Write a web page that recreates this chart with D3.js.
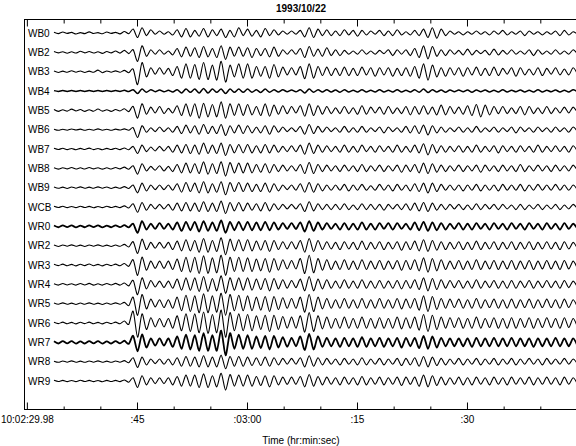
<!DOCTYPE html>
<html>
<head>
<meta charset="utf-8">
<script src="https://cdn.jsdelivr.net/npm/d3@7"></script>
<style>
  body { margin: 0; background: #fff; }
  text { font-family: "Liberation Sans", Arial, Helvetica, sans-serif; fill: #000; }
</style>
</head>
<body>
<div id="chart"></div>
<script>
// station names, top to bottom
const stations = ["WB0", "WB2", "WB3", "WB4", "WB5", "WB6", "WB7", "WB8", "WB9", "WCB",
                  "WR0", "WR2", "WR3", "WR4", "WR5", "WR6", "WR7", "WR8", "WR9"];

// time axis (seconds after 10:02:29.98)
const majorTicks = [0, 15.02, 30.02, 45.02, 60.02];
const majorLabels = ["10:02:29.98", ":45", ":03:00", ":15", ":30"];
const minorTicks = [5.02, 10.02, 20.02, 25.02, 35.02, 40.02, 50.02, 55.02, 65.02, 70.02];

// trace samples: peaks/troughs, first one at 3.7 s, one every 0.6 s
const sampleStart = 3.7;
const sampleStep = 0.6;

const wb0 = [0.5,-0.5,0.8,-0.3,0.5,-0.8,0.3,-0.5,0.9,-0.4,0.3,-0.6,0.8,-0.3,0.5,-0.7,1.2,-0.5,
  3,-3.5,4,-2,2.5, -1,1.5,-1,1,-1.5,
  2.5,-3,3.5,-3,2,-2.5,3.5,-3,2.5,-2,3,-3.5,2,-3,4,
  -2,3,-2.5,2,-3,3.5,-2,2.5,-1.5,1.5,-1,1.5,-1,
  2,-3,4,-3.5,3,-2,2.5,-2,
  1.5,-2,2.5,-1.5,2,-2.5,2,-1.5,1.5,-1,2,-2,1.5,-2,2.5,-1.5,1,-1.5,2,
  -2,3,-3.5,4,-4,3,-2,1.5,-1,
  1,-1.5,1,-1,1.5,-1,1,-1.5,1.5,-1,2,-1.5,1,-1,1.5,-2,1.5,-1,1,-1.5,1,-1,1.5,-2,2,-1.5,1,-1];

const wb2 = [0.6,-0.4,0.5,-0.7,0.4,-0.5,0.8,-0.4,0.6,-0.5,0.4,-0.8,0.6,-0.4,1,-0.6,1.5,-1,
  2,-7,5,-3,2, -1.5,2,-1.5,1,-2,
  3,-3.5,4,-3,3.5,-4,4.5,-3.5,3,-4,5,-5.5,4,-3,4,
  -3,3.5,-4,3,-2.5,3,-3.5,4,-3,2,-1.5,2,-1.5,
  3,-4,4.5,-3,2.5,-3,3.5,-2.5,
  2,-2.5,1.5,-1.5,1,-1.5,2,-1.5,1,-1.5,1.5,-1,2,-2.5,2,-1.5,2,-2.5,3,
  -4,5,-5,4.5,-3,2,-2.5,2,-1.5,
  1.5,-2,2.5,-2,1.5,-1,1.5,-2,2.5,-2,1.5,-1.5,2,-1.5,1,-1.5,2,-2.5,2,-1.5,1,-1.5,2,-1.5,1,-1.5,2,-1.5];

const wb3 = [0.5,-0.6,0.4,-0.5,0.7,-0.4,0.5,-0.6,0.4,-0.5,1.2,-0.8,0.5,-0.4,0.6,-0.5,1,-0.8,
  2,-10,7,-4,3, -2,3,-2,2.5,-3,
  4,-5,6,-5,5.5,-6,7,-6,5,-6.5,8,-8,5,-4,6,
  -5,6,-5,4,-3.5,4,-5,5.5,-4,3.5,-2.5,3,-2.5,
  4,-5.5,6,-5,4,-3,3.5,-3,
  2.5,-3,3.5,-3,2.5,-3,3.5,-2.5,3,-3.5,3,-2.5,3,-3.5,2.5,-3,3,-3.5,4,
  -5,6,-6.5,5,-4,3,-3.5,3,-2.5,
  3,-3.5,3,-2.5,3.5,-3,2.5,-3,3.5,-3,2.5,-2,3,-3.5,3,-2.5,2,-2.5,3,-3,2.5,-2,3,-2.5,2,-2.5,3,-2];

const wb4 = [0.3,-0.3,0.4,-0.3,0.3,-0.4,0.3,-0.3,0.4,-0.3,0.3,-0.4,0.3,-0.3,0.4,-0.3,0.5,-0.4,
  1,-2,1.5,-1,1, -0.5,0.8,-0.6,0.5,-0.8,
  1,-1.5,1.5,-1,1.5,-1.5,2,-1.5,1.5,-1,1.5,-2,1.5,-1,1.5,
  -1,1.5,-1,1,-1.2,1.5,-1,1,-0.8,1,-0.6,0.8,-0.6,
  1,-1.5,1.5,-1,1,-0.8,1,-0.8,
  0.8,-1,1,-0.8,0.6,-0.8,1,-0.8,0.6,-0.8,1,-0.8,0.6,-0.8,1,-0.8,0.6,-0.8,1,
  -1,1.5,-1.2,1,-0.8,0.8,-1,0.8,-0.6,
  0.8,-0.6,0.8,-1,0.8,-0.6,0.8,-0.8,0.6,-0.8,1,-0.8,0.6,-0.6,0.8,-0.8,0.6,-0.8,1,-0.8,0.6,-0.6,0.8,-0.8,0.6,-0.8,1,-0.6];

const wb5 = [0.6,-0.8,0.5,-0.6,0.9,-0.5,0.6,-0.8,0.5,-0.7,1,-0.6,0.5,-0.8,0.6,-0.5,1.2,-1,
  3,-6,5,-3,2.5, -2,3,-2.5,1.5,-2,
  3.5,-4,5,-4.5,5,-6,5.5,-5,4.5,-5,6.5,-6,5,-4,5,
  -4,4.5,-3.5,3,-4,5,-4.5,4,-3,3.5,-2.5,3,-2,
  3.5,-4.5,5,-4,3.5,-3,3,-2.5,
  2,-2.5,3,-2.5,2,-3,3.5,-3,2.5,-2,2.5,-3,3,-2.5,2,-2.5,3,-3.5,3,
  -3,3.5,-3,2.5,-3.5,4,-3.5,3,-2.5,
  2.5,-3,3.5,-4,4.5,-5,4,-3.5,3,-2.5,3,-2.5,2,-2.5,3,-3.5,3,-2.5,2,-2.5,3,-2.5,2,-2,2.5,-2,2.5,-2];

const wb6 = [0.4,-0.5,0.3,-0.4,0.5,-0.3,0.4,-0.5,0.3,-0.4,0.6,-0.4,0.3,-0.5,0.4,-0.3,0.6,-0.5,
  1.5,-6,3,-2,1.5, -1.5,2,-1.5,1.5,-2,
  2.5,-3,3.5,-2.5,3,-3.5,4,-3,2.5,-3,4,-4.5,3,-2.5,3.5,
  -3,3,-2.5,2,-2.5,3,-3.5,3,-2,2,-1.5,1.5,-1.5,
  2.5,-3.5,4,-3,2.5,-2,2,-1.5,
  1.5,-2,2.5,-2,1.5,-2,2.5,-2,1.5,-1.5,2,-2.5,2,-1.5,1.5,-2,2.5,-2.5,3,
  -3,3.5,-4,3,-2.5,2,-2,1.5,-1.5,
  2,-2,1.5,-2,2.5,-2,1.5,-1.5,2,-2,1.5,-1.5,2,-2.5,2,-1.5,1.5,-2,2,-1.5,1.5,-2,2,-1.5,1.5,-2,2,-1.5];

const wb7 = [0.5,-0.4,0.6,-0.5,0.4,-0.6,0.5,-0.4,0.7,-0.5,0.4,-0.6,0.5,-0.4,0.6,-0.5,0.8,-0.6,
  2,-3.5,3,-2,1.5, -1.5,2,-1.5,2,-2.5,
  3,-3,3.5,-3.5,3,-4,4.5,-3.5,3,-3.5,4.5,-5,3.5,-3,3.5,
  -3,3.5,-3,2.5,-3,3.5,-3,3,-2.5,2,-2,2.5,-2,
  3,-4,4.5,-3.5,3,-2.5,2.5,-2,
  2,-2.5,3,-2.5,2,-2.5,3,-2,2,-2.5,2.5,-2,2,-2.5,3,-2.5,2,-2.5,3,
  -3,4,-4.5,3.5,-3,2.5,-2.5,2,-2,
  2.5,-2.5,2,-2.5,3,-2.5,2,-2,2.5,-3,2.5,-2,2,-2.5,2.5,-2,2,-2.5,3,-2.5,2,-2,2.5,-2,2,-2.5,2.5,-2];

const wb8 = [0.4,-0.6,0.5,-0.4,0.6,-0.5,0.4,-0.5,0.6,-0.4,0.5,-0.6,0.4,-0.5,0.6,-0.4,0.9,-0.7,
  2,-4.5,3.5,-2,1.5, -1.5,2,-2,1.5,-2.5,
  3,-3.5,4,-3.5,3.5,-4,5,-4.5,3.5,-4,5,-6,4.5,-3.5,4,
  -3.5,4,-3.5,3,-3,3.5,-3.5,3,-2.5,2.5,-2,2,-2,
  3,-4,4.5,-4,3,-2.5,2.5,-2,
  2,-2.5,2.5,-2,2,-2.5,3,-2.5,2,-2,2.5,-2.5,2,-2,2.5,-3,2.5,-2.5,3,
  -3.5,4,-4,3.5,-3,2.5,-2.5,2,-2,
  2.5,-2.5,2,-2,2.5,-3,2.5,-2,2,-2.5,2.5,-2,2,-2.5,3,-2.5,2,-2,2.5,-2,2,-2.5,2.5,-2,2,-2,2.5,-2];

const wb9 = [0.5,-0.5,0.4,-0.6,0.5,-0.4,0.6,-0.5,0.4,-0.5,0.6,-0.4,0.5,-0.6,0.4,-0.5,0.8,-0.6,
  2,-4,3.5,-2.5,2, -1.5,2,-1.5,2,-2,
  3,-3.5,4,-3,3.5,-4,4.5,-4,3,-3.5,4.5,-5.5,4,-3,4,
  -3,3.5,-3,2.5,-3,3.5,-3.5,3,-2.5,2,-1.5,2,-2,
  3,-3.5,4,-3.5,3,-2.5,2,-2,
  2,-2,2.5,-2.5,2,-2,2.5,-2,1.5,-2,2.5,-2,2,-2.5,2.5,-2,2,-2.5,3,
  -3,3.5,-4,3.5,-3,2.5,-2,2,-2,
  2,-2.5,2,-2,2.5,-2.5,2,-2,2,-2.5,2.5,-2,2,-2,2.5,-2.5,2,-2,2.5,-2,2,-2,2.5,-2,2,-2,2,-2];

const wcb = [0.5,-0.4,0.6,-0.5,0.4,-0.5,0.6,-0.4,0.5,-0.6,0.4,-0.5,0.6,-0.4,0.5,-0.5,0.9,-0.8,
  2.5,-4,3.5,-2.5,2, -1.5,2,-1.5,2,-2.5,
  3,-3,3.5,-3,3,-3.5,4,-3.5,3,-3.5,4.5,-5,3.5,-3,3.5,
  -3,3,-2.5,2.5,-3,3.5,-3,2.5,-2,2,-1.5,2,-1.5,
  2.5,-3.5,4,-3,2.5,-2,2,-2,
  2,-2,2.5,-2,1.5,-2,2.5,-2,2,-2,2,-2.5,2,-1.5,2,-2,2.5,-2.5,3,
  -3,3.5,-3.5,3,-2.5,2,-2,2,-1.5,
  2,-2,1.5,-2,2.5,-2,2,-1.5,2,-2,2,-1.5,1.5,-2,2,-2,1.5,-1.5,2,-2,1.5,-1.5,2,-2,1.5,-1.5,2,-1.5];

const wr0 = [0.6,-0.7,0.8,-0.6,0.7,-0.8,0.6,-0.7,0.8,-0.6,0.7,-0.8,0.6,-0.7,0.8,-0.6,0.9,-0.8,
  2,-5,4,-2.5,2, -2,2.5,-2,2,-2.5,
  3,-3.5,3.5,-3,3.5,-4,4,-3.5,3,-3.5,4.5,-5,3.5,-3,3.5,
  -3,3.5,-3,3,-3,3.5,-3,3,-2.5,2.5,-2,2.5,-2,
  3,-4,4,-3.5,3,-2.5,2.5,-2,
  2,-2.5,2.5,-2.5,2,-2.5,3,-2.5,2,-2.5,2.5,-2,2.5,-2.5,2.5,-2,2,-2.5,3,
  -3,3.5,-3.5,3,-3,2.5,-2.5,2,-2,
  2.5,-2.5,2,-2.5,2.5,-2,2,-2.5,2.5,-2,2,-2.5,2.5,-2,2,-2.5,2.5,-2,2,-2.5,2.5,-2,2,-2.5,2.5,-2,2,-2];

const wr2 = [0.5,-0.6,0.5,-0.4,0.6,-0.5,0.4,-0.6,0.5,-0.4,0.6,-0.5,0.4,-0.6,0.5,-0.5,1,-1,
  3,-6,5,-3,2.5, -2,2.5,-2,2.5,-3,
  3.5,-4,4.5,-4,4,-5,5.5,-5,4,-4.5,6,-7,5,-4,4.5,
  -4,4.5,-4,3.5,-3.5,4,-4.5,4,-3,3,-2.5,3,-2.5,
  4,-5,5.5,-4.5,4,-3,3,-2.5,
  2.5,-3,3,-2.5,2.5,-3,3.5,-3,2.5,-2.5,3,-3,2.5,-2.5,3,-3.5,3,-3,3.5,
  -4,4.5,-4.5,4,-3.5,3,-3,2.5,-2.5,
  3,-3,2.5,-3,3.5,-3,2.5,-2.5,3,-3,2.5,-2.5,3,-3,2.5,-2.5,3,-3,2.5,-2.5,3,-2.5,2.5,-3,3,-2.5,2.5,-2.5];

const wr3 = [0.6,-0.5,0.7,-0.6,0.5,-0.7,0.6,-0.5,0.8,-0.6,0.5,-0.7,0.6,-0.5,0.7,-0.6,1.2,-1,
  4,-8,6,-4,3, -2.5,3,-2.5,3,-3.5,
  4.5,-5,6,-5.5,6,-6.5,7,-6.5,5.5,-6,7.5,-8,6,-5,6,
  -5,5.5,-5,4.5,-4.5,5,-5.5,5,-4,4,-3,3.5,-3,
  5,-6.5,7.5,-6,5,-4,4,-3.5,
  3,-3.5,4,-3.5,3,-3.5,4,-3.5,3,-3,3.5,-3.5,3,-3,3.5,-4,3.5,-3.5,4,
  -4.5,5.5,-5.5,5,-4.5,4,-3.5,3,-3,
  3.5,-3.5,3,-3.5,4,-3.5,3,-3,3.5,-3.5,3,-3,3.5,-3.5,3,-3,3.5,-3.5,3,-3,3.5,-3,3,-3.5,3.5,-3,3,-3];

const wr4 = [0.5,-0.6,0.6,-0.5,0.5,-0.6,0.6,-0.5,0.7,-0.6,0.5,-0.6,0.6,-0.5,0.7,-0.6,1,-1.2,
  3,-8,5,-3.5,3, -2,2.5,-2.5,2.5,-3,
  4,-4.5,5,-4.5,5,-5.5,6,-5.5,4.5,-5,6.5,-7,5,-4.5,5,
  -4.5,5,-4.5,4,-4,4.5,-5,4.5,-3.5,3.5,-3,3,-2.5,
  4,-5,6,-5,4,-3.5,3.5,-3,
  2.5,-3,3.5,-3,2.5,-3,3.5,-3,2.5,-3,3,-3,2.5,-3,3,-3.5,3,-3,3.5,
  -4,5,-5,4.5,-4,3.5,-3,3,-2.5,
  3,-3,2.5,-3,3.5,-3,2.5,-2.5,3,-3,2.5,-3,3,-3,2.5,-2.5,3,-3,2.5,-2.5,3,-2.5,2.5,-3,3,-2.5,2.5,-2.5];

const wr5 = [0.5,-0.5,0.6,-0.5,0.4,-0.6,0.5,-0.5,0.6,-0.5,0.4,-0.6,0.5,-0.5,0.6,-0.5,1,-1.5,
  5,-9,7,-4,3.5, -2.5,3,-3,3,-3.5,
  5,-5.5,6.5,-6,6,-7,7.5,-7,6,-6.5,8,-9,7,-5.5,6.5,
  -5.5,6,-5.5,5,-5,5.5,-6,5.5,-4.5,4.5,-3.5,4,-3.5,
  5,-6.5,7,-6,5,-4,4,-3.5,
  3,-3.5,4,-3.5,3,-3.5,4,-3.5,3,-3.5,4,-3.5,3,-3.5,4,-4,3.5,-3.5,4,
  -5,6,-6,5.5,-4.5,4,-3.5,3.5,-3,
  3.5,-3.5,3,-3.5,4,-3.5,3,-3,3.5,-3.5,3,-3.5,3.5,-3.5,3,-3,3.5,-3.5,3,-3,3.5,-3,3,-3.5,3.5,-3,3,-3];

const wr6 = [0.6,-0.5,0.7,-0.6,0.5,-0.7,0.6,-0.5,0.7,-0.6,0.5,-0.7,0.6,-0.5,0.7,-0.6,1.5,-1,
  9,-11,7,-5,4, -3,3.5,-3,3.5,-4,
  5.5,-6,7,-6.5,7,-7.5,8.5,-8,6.5,-7.5,10,-11,8,-6,7,
  -6,6.5,-6,5.5,-5,6,-6.5,6,-5,5,-4,4.5,-4,
  5.5,-7,8,-6.5,5.5,-4.5,4.5,-4,
  3.5,-4,4.5,-4,3.5,-4,4.5,-4,3.5,-4,4,-4,3.5,-4,4.5,-4.5,4,-4,4.5,
  -5.5,6.5,-6.5,6,-5,4.5,-4,4,-3.5,
  4,-4,3.5,-4,4.5,-4,3.5,-3.5,4,-4,3.5,-4,4,-4,3.5,-3.5,4,-4,3.5,-3.5,4,-3.5,3.5,-4,4,-3.5,3.5,-3.5];

const wr7 = [0.8,-0.9,1,-0.8,0.9,-1,0.8,-0.9,1,-0.8,0.9,-1,0.8,-0.9,1,-0.8,1.2,-1.2,
  5,-7,6,-4,3, -2.5,3,-2.5,3,-3.5,
  4.5,-5,6,-5.5,5.5,-6.5,7,-6.5,5.5,-6.5,9,-10,7,-5,6,
  -5,5.5,-5,4.5,-4.5,5,-5.5,5,-4,4,-3.5,3.5,-3,
  4.5,-6,6.5,-5.5,4.5,-3.5,3.5,-3,
  3,-3.5,3.5,-3,3,-3.5,4,-3.5,3,-3,3.5,-3.5,3,-3,3.5,-4,3.5,-3,3.5,
  -4.5,5,-5,4.5,-4,3.5,-3,3,-3,
  3,-3,3,-3.5,3.5,-3,3,-3,3.5,-3,3,-3,3.5,-3,3,-3,3,-3.5,3,-3,3,-3,3.5,-3,3,-3,3,-3];

const wr8 = [0.4,-0.5,0.5,-0.4,0.6,-0.5,0.4,-0.5,0.5,-0.4,0.6,-0.5,0.4,-0.5,0.5,-0.4,0.8,-0.8,
  3,-4.5,3.5,-2.5,2, -1.5,2,-2,2,-2.5,
  3,-3.5,4,-3.5,3.5,-4,4.5,-4,3.5,-4,5,-5.5,4,-3.5,4,
  -3.5,3.5,-3,3,-3,3.5,-3.5,3,-2.5,2.5,-2,2.5,-2,
  3,-4,4.5,-3.5,3,-2.5,2.5,-2,
  2,-2.5,2.5,-2,2,-2.5,3,-2.5,2,-2,2.5,-2.5,2,-2,2.5,-3,2.5,-2.5,3,
  -3.5,4,-4,3.5,-3,2.5,-2.5,2,-2,
  2.5,-2.5,2,-2,2.5,-2.5,2,-2,2.5,-2.5,2,-2,2.5,-2.5,2,-2,2.5,-2,2,-2.5,2.5,-2,2,-2,2.5,-2,2,-2];

const wr9 = [0.5,-0.4,0.5,-0.5,0.4,-0.5,0.6,-0.4,0.5,-0.5,0.4,-0.6,0.5,-0.4,0.5,-0.5,0.8,-0.9,
  2.5,-5,4,-3,2.5, -2,2.5,-2,2.5,-3,
  3.5,-4,4.5,-4,4.5,-5,5.5,-5,4,-4.5,6,-7,5,-4,4.5,
  -4,4.5,-4,3.5,-3.5,4,-4.5,4,-3,3,-2.5,3,-2.5,
  3.5,-4.5,5,-4,3.5,-3,3,-2.5,
  2.5,-3,3,-2.5,2.5,-3,3.5,-3,2.5,-2.5,3,-3,2.5,-2.5,3,-3.5,3,-2.5,3,
  -4,4.5,-4.5,4,-3.5,3,-3,2.5,-2.5,
  3,-3,2.5,-3,3,-2.5,2.5,-3,3,-2.5,2.5,-3,3,-2.5,2.5,-2.5,3,-3,2.5,-2.5,3,-2.5,2.5,-3,3,-2.5,2.5,-2.5];

const traces = [wb0, wb2, wb3, wb4, wb5, wb6, wb7, wb8, wb9, wcb,
                wr0, wr2, wr3, wr4, wr5, wr6, wr7, wr8, wr9];

// noisy stations look heavier in the plot
const heavy = { WB4: 1.5, WR0: 1.8, WR7: 1.8 };

const width = 576, height = 446;
const plotLeft = 24, plotRight = 578, plotTop = 19, plotBottom = 409;

const svg = d3.select("#chart").append("svg")
  .attr("width", width)
  .attr("height", height);

const x = d3.scaleLinear()
  .domain([-0.39, 75.16])
  .range([plotLeft, plotRight]);

const y = d3.scalePoint()
  .domain(stations)
  .range([33, 381]);

// trace units to pixels
const amp = d3.scaleLinear()
  .domain([-10, 10])
  .range([13, -13]);

// frame
svg.append("rect")
  .attr("x", plotLeft + 0.5)
  .attr("y", plotTop + 0.5)
  .attr("width", plotRight - plotLeft)
  .attr("height", plotBottom - plotTop)
  .attr("fill", "none")
  .attr("stroke", "#000")
  .attr("stroke-width", 1);

// bottom ticks (pointing up) and top ticks (pointing down)
const xb = d3.axisBottom(x).tickValues(majorTicks).tickSize(-7)
  .tickFormat((d, i) => majorLabels[i]).tickPadding(6);
svg.append("g")
  .attr("transform", `translate(0,${plotBottom + 0.5})`)
  .call(xb)
  .call(g => g.select(".domain").remove())
  .call(g => g.selectAll("text").attr("font-size", 10).attr("font-family", null));

svg.append("g")
  .attr("transform", `translate(0,${plotBottom + 0.5})`)
  .call(d3.axisBottom(x).tickValues(minorTicks).tickSize(-3).tickFormat(""))
  .call(g => g.select(".domain").remove());

svg.append("g")
  .attr("transform", `translate(0,${plotTop + 0.5})`)
  .call(d3.axisTop(x).tickValues(majorTicks).tickSize(-7).tickFormat(""))
  .call(g => g.select(".domain").remove());

svg.append("g")
  .attr("transform", `translate(0,${plotTop + 0.5})`)
  .call(d3.axisTop(x).tickValues(minorTicks).tickSize(-4).tickFormat(""))
  .call(g => g.select(".domain").remove());

svg.selectAll(".tick line").attr("stroke", "#000");

// traces
const line = d3.line()
  .x((d, i) => x(sampleStart + i * sampleStep))
  .curve(d3.curveCardinal.tension(0.2));

svg.append("g")
  .selectAll("path")
  .data(stations)
  .join("path")
  .attr("fill", "none")
  .attr("stroke", "#000")
  .attr("stroke-width", d => heavy[d] || 1.1)
  .attr("stroke-linejoin", "round")
  .attr("d", (name, k) => line.y(v => y(name) + amp(v))(traces[k]));

// station labels
svg.append("g")
  .selectAll("text")
  .data(stations)
  .join("text")
  .attr("x", 28)
  .attr("y", d => y(d) + 3.5)
  .attr("font-size", 10)
  .text(d => d);

// title and axis label
svg.append("text")
  .attr("x", (plotLeft + plotRight) / 2)
  .attr("y", 12)
  .attr("text-anchor", "middle")
  .attr("font-size", 10)
  .attr("font-weight", "bold")
  .text("1993/10/22");

svg.append("text")
  .attr("x", (plotLeft + plotRight) / 2)
  .attr("y", 444)
  .attr("text-anchor", "middle")
  .attr("font-size", 10)
  .text("Time (hr:min:sec)");
</script>
</body>
</html>
